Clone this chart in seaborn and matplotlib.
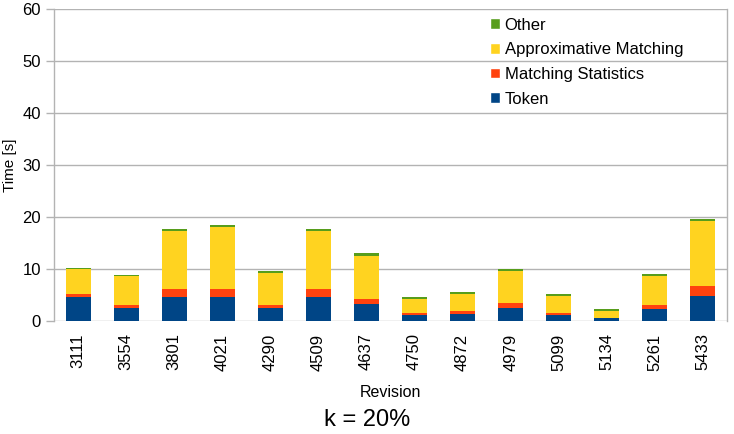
import numpy as np
import pandas as pd
import matplotlib
matplotlib.use('Agg')
import matplotlib.pyplot as plt
import seaborn as sns
from matplotlib.patches import Patch

# 데이터
revisions = ['3111', '3554', '3801', '4021', '4290', '4509', '4637',
             '4750', '4872', '4979', '5099', '5134', '5261', '5433']
token = [4.55, 2.44, 4.68, 4.68, 2.44, 4.55, 3.2, 1.09, 1.28, 2.44, 1.09, 0.51, 2.24, 4.74]
matching_stats = [0.71, 0.70, 1.54, 1.54, 0.70, 1.54, 1.09, 0.38, 0.58, 0.96, 0.38, 0.07, 0.77, 1.93]
approx_matching = [4.68, 5.45, 11.02, 11.79, 6.03, 11.15, 8.15, 2.70, 3.27, 6.15, 3.27, 1.28, 5.58, 12.50]
other = [0.32, 0.19, 0.39, 0.39, 0.38, 0.39, 0.57, 0.38, 0.38, 0.39, 0.39, 0.38, 0.38, 0.51]

series = ['Token', 'Matching Statistics', 'Approximative Matching', 'Other']
colors = ['#004586', '#ff420e', '#ffd320', '#579d1c']

df = pd.DataFrame({'Revision': revisions, 'Token': token,
                   'Matching Statistics': matching_stats,
                   'Approximative Matching': approx_matching, 'Other': other})
cum = df[series].cumsum(axis=1)
cum['Revision'] = df['Revision']

sns.set_style('white')
plt.rcParams['font.family'] = ['Liberation Sans', 'DejaVu Sans']
plt.rcParams['text.color'] = 'black'
plt.rcParams['axes.labelcolor'] = 'black'
plt.rcParams['xtick.color'] = 'black'
plt.rcParams['ytick.color'] = 'black'

fig = plt.figure(figsize=(7.34, 4.34), dpi=100)
ax = fig.add_axes([54 / 734, 1 - 321 / 434, 673 / 734, 311.5 / 434])

# 누적 막대 (위에서부터 그림)
for name, col in reversed(list(zip(series, colors))):
    sns.barplot(data=cum, x='Revision', y=name, order=revisions, color=col,
                width=0.52, linewidth=0, saturation=1, ax=ax, zorder=3)

ax.set_ylim(0, 60)
ax.set_xlim(-0.5, len(revisions) - 0.5)
ax.set_yticks(range(0, 61, 10))
ax.yaxis.grid(True, color='#b3b3b3', linewidth=1, zorder=0)
ax.set_axisbelow(True)

for s in ['top', 'bottom']:
    ax.spines[s].set_visible(False)
for s in ['left', 'right']:
    ax.spines[s].set_visible(True)
    ax.spines[s].set_color('#b3b3b3')
    ax.spines[s].set_linewidth(1)

ax.set_xticks(range(len(revisions)))
ax.set_xticklabels(revisions, rotation=90, fontsize=12)
ax.set_xticks(np.arange(-0.5, len(revisions), 1), minor=True)
ax.tick_params(axis='x', which='major', length=0, pad=9)
ax.tick_params(axis='x', which='minor', length=8, color='#b3b3b3', width=1)
ax.tick_params(axis='y', length=6, color='#b3b3b3', width=1, labelsize=12, left=True)

ax.set_xlabel('Revision', fontsize=11.5, labelpad=10)
ax.set_ylabel('Time [s]', fontsize=11)

handles = [Patch(facecolor=c, label=n) for n, c in zip(series, colors)]
ax.legend(handles=handles[::-1], loc='upper left', bbox_to_anchor=(0.625, 1.022),
          frameon=False, fontsize=12, handlelength=0.6, handleheight=0.6,
          handletextpad=0.3, labelspacing=0.58)

fig.text(0.5, 1 - 420 / 434, 'k = 20%', ha='center', va='center', fontsize=17)

fig.savefig('out.png', dpi=100)
